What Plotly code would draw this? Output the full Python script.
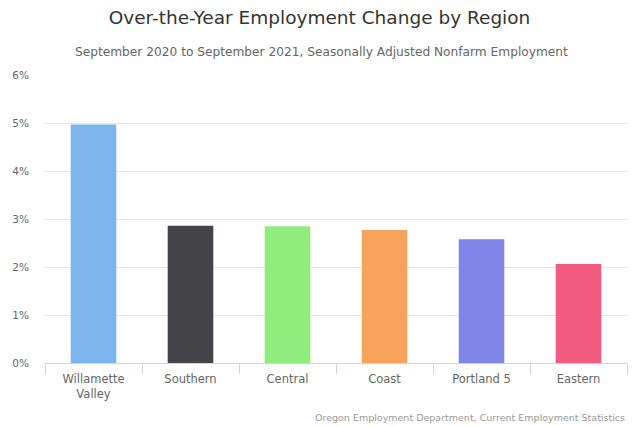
import plotly.graph_objects as go

categories = ["Willamette<br>Valley", "Southern", "Central", "Coast", "Portland 5", "Eastern"]
values = [4.97, 2.86, 2.85, 2.77, 2.58, 2.06]
colors = ["#7cb5ec", "#434348", "#90ed7d", "#f7a35c", "#8085e9", "#f15c80"]
y_ticks = [0, 1, 2, 3, 4, 5, 6]
y_tick_labels = ["0%", "1%", "2%", "3%", "4%", "5%", "6%"]

FONT = "DejaVu Sans"
W, H = 639, 426
L, R, T, B = 42, 12, 75, 63
PW, PH = W - L - R, H - T - B

fig = go.Figure(go.Bar(
    x=categories, y=values, marker=dict(color=colors, line=dict(width=0)),
    width=0.47, hoverinfo="skip",
))

fig.update_layout(
    width=W, height=H,
    margin=dict(l=L, r=R, t=T, b=B),
    paper_bgcolor="white", plot_bgcolor="white",
    showlegend=False,
    font=dict(family=FONT, color="#666666", size=11),
    title=dict(text="Over-the-Year Employment Change by Region",
               x=0.5, xanchor="center", y=1 - 18 / H, yanchor="middle",
               font=dict(family=FONT, size=18.5, color="#333333")),
    annotations=[
        dict(text="September 2020 to September 2021, Seasonally Adjusted Nonfarm Employment",
             xref="paper", yref="paper", x=(W / 2 - L) / PW, y=1 + (T - 52) / PH,
             xanchor="center", yanchor="middle", showarrow=False,
             font=dict(family=FONT, size=12.2, color="#666666")),
        dict(text="Oregon Employment Department, Current Employment Statistics",
             xref="paper", yref="paper", x=(627 - L) / PW, y=-(417 - (H - B)) / PH,
             xanchor="right", yanchor="middle", showarrow=False,
             font=dict(family=FONT, size=9.5, color="#999999")),
    ],
)

fig.update_xaxes(
    showgrid=False, showline=True, linecolor="#ccd6eb", linewidth=1,
    ticks="outside", tickson="boundaries", ticklen=10, tickcolor="#ccd6eb",
    ticklabelstandoff=5,
    tickfont=dict(size=11.5, color="#666666"), fixedrange=True,
)
fig.update_yaxes(
    range=[0, 6], tickvals=y_ticks, ticktext=y_tick_labels,
    showgrid=True, gridcolor="#e6e6e6", gridwidth=1, zeroline=False,
    showline=False, ticks="", ticklabelstandoff=15,
    tickfont=dict(size=10.5, color="#666666"), fixedrange=True,
)

fig.write_html("out.html", config={"displayModeBar": False},
               post_script="document.body.style.margin='0';document.body.style.padding='0';")
